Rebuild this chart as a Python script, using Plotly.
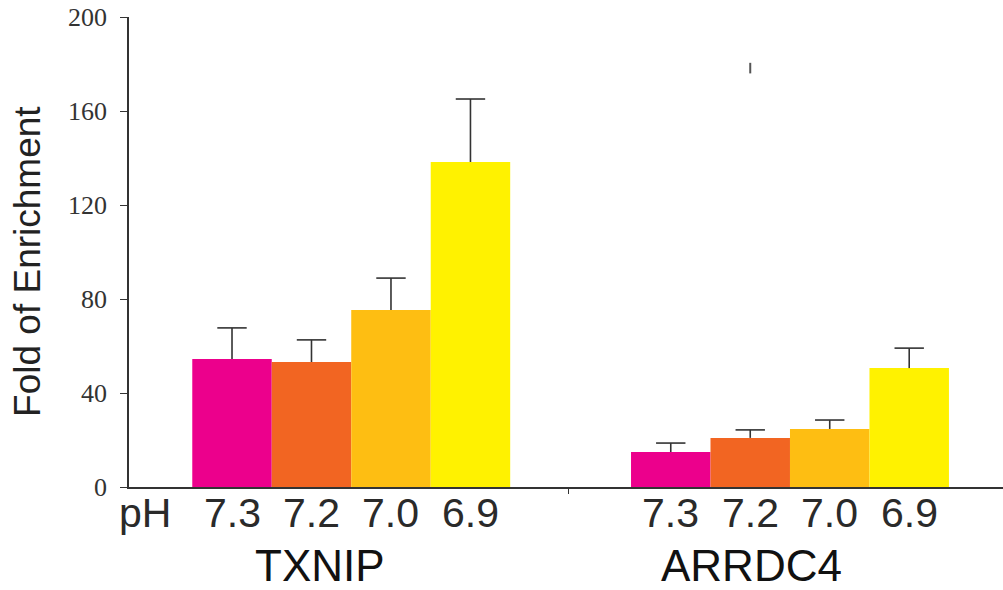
import plotly.graph_objects as go

genes = ["TXNIP", "ARRDC4"]
ph_labels = ["7.3", "7.2", "7.0", "6.9"]
colors = ["#EC008C", "#F26522", "#FEBE12", "#FFF200"]
# mean fold of enrichment per pH, per gene (order of genes)
means = {
    "7.3": [54.5, 14.9],
    "7.2": [53.2, 20.9],
    "7.0": [75.3, 24.7],
    "6.9": [138.3, 50.6],
}
# upper error (mean + err = cap)
errors = {
    "7.3": [13.2, 3.8],
    "7.2": [9.4, 3.4],
    "7.0": [13.6, 3.8],
    "6.9": [26.8, 8.5],
}
y_ticks = [0, 40, 80, 120, 160, 200]
stray_mark = [176, 180.5]  # small stray vertical mark above ARRDC4 pH 7.2

group_start = [0.0, 5.52]
sep_tick = 4.23

fig = go.Figure()
for i, ph in enumerate(ph_labels):
    xs = [g + i for g in group_start]
    fig.add_trace(go.Bar(
        x=xs, y=means[ph], width=1.0,
        marker=dict(color=colors[i], line=dict(width=0)),
        error_y=dict(type="data", array=errors[ph], arrayminus=[0, 0],
                     symmetric=False, color="#333333", thickness=1.6, width=0),
        showlegend=False,
    ))
    # caps on the upper end only
    fig.add_trace(go.Scatter(
        x=xs, y=[m + e for m, e in zip(means[ph], errors[ph])], mode="markers",
        marker=dict(symbol="line-ew", size=21, line=dict(color="#333333", width=1.6)),
        showlegend=False, hoverinfo="skip",
    ))

fig.add_trace(go.Scatter(
    x=[group_start[1] + 1] * 2, y=stray_mark, mode="lines",
    line=dict(color="#555555", width=2), showlegend=False, hoverinfo="skip",
))

annotations = []
# pH tick labels
for g in group_start:
    for i, ph in enumerate(ph_labels):
        annotations.append(dict(
            x=g + i, y=-0.056, xref="x", yref="paper", text=ph,
            showarrow=False, font=dict(family="Arial, Liberation Sans", size=41, color="#2a2a2a"),
            xanchor="center", yanchor="middle"))
annotations.append(dict(
    x=-1.094, y=-0.056, xref="x", yref="paper", text="pH",
    showarrow=False, font=dict(family="Arial, Liberation Sans", size=41, color="#2a2a2a"),
    xanchor="center", yanchor="middle"))
# gene labels
gene_pos = [1.11, 6.53]
for gx, gname in zip(gene_pos, genes):
    annotations.append(dict(
        x=gx, y=-0.168, xref="x", yref="paper", text=gname,
        showarrow=False, font=dict(family="Arial, Liberation Sans", size=44, color="#111111"),
        xanchor="center", yanchor="middle"))
# y-axis title
annotations.append(dict(
    x=-0.1156, y=0.481, xref="paper", yref="paper", text="Fold of Enrichment",
    showarrow=False, textangle=-90,
    font=dict(family="Arial, Liberation Sans", size=37, color="#222222"),
    xanchor="center", yanchor="middle"))

fig.update_layout(
    width=1003, height=590,
    margin=dict(l=129, r=0, t=17, b=103, autoexpand=False),
    paper_bgcolor="white", plot_bgcolor="white",
    barmode="overlay",
    annotations=annotations,
    xaxis=dict(range=[-1.296, 9.70], showgrid=False, zeroline=False, automargin=False,
               showline=True, linecolor="#333333", linewidth=1.5,
               tickvals=[sep_tick], ticks="outside", ticklen=5,
               tickcolor="#333333", tickwidth=1.2, showticklabels=False),
    yaxis=dict(range=[0, 200], tickvals=y_ticks, showgrid=False, zeroline=False, automargin=False,
               showline=True, linecolor="#333333", linewidth=1.5,
               ticks="outside", ticklen=7, tickcolor="#333333", tickwidth=1.2,
               ticklabelstandoff=8, ticklabeloverflow="allow",
               tickfont=dict(family="Liberation Serif, Times New Roman", size=26, color="#333333")),
)

# remove the default 8px page margin so the figure fills the window exactly
fig.write_html("out.html", config={"displayModeBar": False},
               post_script="document.body.style.margin='0';document.body.style.overflow='hidden';")
